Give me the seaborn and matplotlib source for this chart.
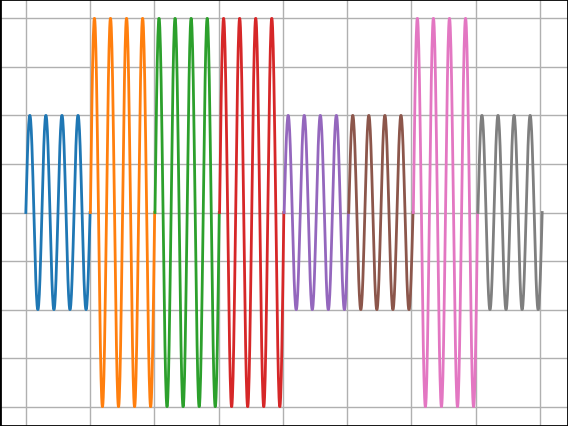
import numpy as np
import pandas as pd
import matplotlib
matplotlib.use('Agg')
import matplotlib.pyplot as plt
import seaborn as sns

# eight tone bursts, four cycles each, sampled one after another
segments = ['s0', 's1', 's2', 's3', 's4', 's5', 's6', 's7']
amplitudes = [1, 2, 2, 2, 1, 1, 2, 1]
cycles = [4, 4, 4, 4, 4, 4, 4, 4]
n_samples = 201
fs = 200

rows = []
for i, (name, amp, cyc) in enumerate(zip(segments, amplitudes, cycles)):
    t = np.linspace(0, 1, n_samples)
    x = (i * n_samples + np.arange(n_samples)) / fs
    for xx, yy in zip(x, amp * np.sin(2 * np.pi * cyc * t)):
        rows.append((xx, yy, name))
df = pd.DataFrame(rows, columns=['x', 'y', 'seg'])

fig = plt.figure(figsize=(5.68, 4.27), dpi=100)
ax = fig.add_axes([0, 0, 1, 1])
sns.lineplot(data=df, x='x', y='y', hue='seg', palette='tab10',
             estimator=None, sort=False, linewidth=2, legend=False, ax=ax)
ax.set_xticks(np.arange(0, 9, 1))
ax.set_yticks(np.arange(-2, 2.01, 0.5))
ax.set_xticklabels([])
ax.set_yticklabels([])
ax.tick_params(length=0)
ax.grid(True, color='#b0b0b0', linewidth=1)
ax.set_axisbelow(True)
ax.set_xlabel('')
ax.set_ylabel('')
for s in ax.spines.values():
    s.set_linewidth(2)
    s.set_color('black')

plt.savefig('out.png', dpi=100)
